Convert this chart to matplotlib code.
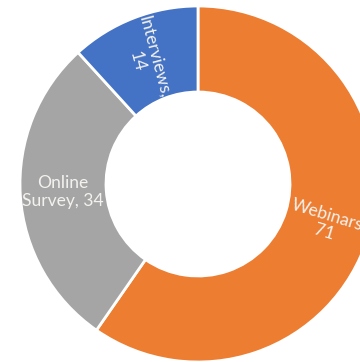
import matplotlib.pyplot as plt

labels = ["Webinars", "Online Survey", "Interviews"]
counts = [71, 34, 14]
colors = ["#ED7D31", "#A5A5A5", "#4472C4"]

fig = plt.figure(figsize=(3.6, 3.62), dpi=100)
ax = fig.add_axes([0, 0, 1, 1])

# ring centred a bit right of the middle, runs off the right edge
wedges, _ = ax.pie(counts, colors=colors, startangle=90, counterclock=False,
                   center=(198, 178), radius=178,
                   wedgeprops=dict(width=86, edgecolor="white", linewidth=2))

ax.set_xlim(0, 360)
ax.set_ylim(0, 362)
ax.set_aspect("equal")
ax.axis("off")

txt = dict(color="#F4F2EE", fontsize=12.6, family="Lato",
           ha="center", va="center", linespacing=1.15)
ax.text(327, 138, "%s,\n%d" % (labels[0], counts[0]), rotation=-17, **txt)
ax.text(63, 170, "Online\n%s, %d" % (labels[1].split()[1], counts[1]), **txt)
ax.text(146, 303, "%s,\n%d" % (labels[2], counts[2]), rotation=-75, **txt)

plt.savefig("out.png", dpi=100)
